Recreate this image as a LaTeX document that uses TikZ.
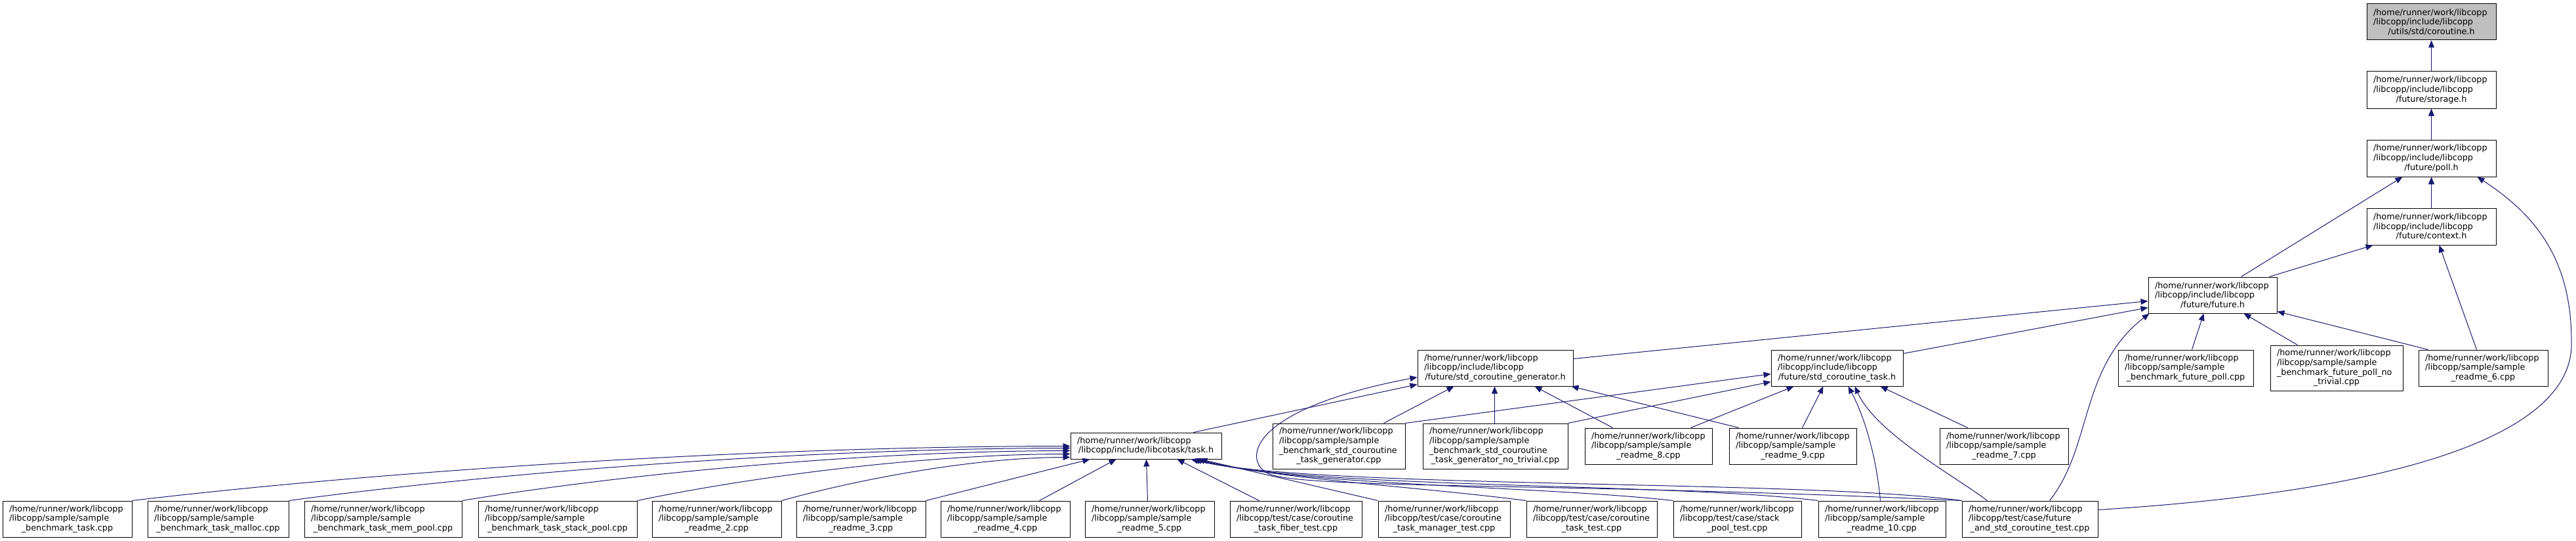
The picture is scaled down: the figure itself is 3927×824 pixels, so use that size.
\documentclass[tikz,border=0pt]{standalone}
\usepackage{fontspec}
\setmainfont{DejaVu Sans}
\usetikzlibrary{arrows.meta}
\definecolor{edgeblue}{HTML}{191970}
\definecolor{rootfill}{HTML}{BFBFBF}
\hyphenpenalty=10000
\exhyphenpenalty=10000
\newcommand{\bx}[8][]{%
  \pgfmathsetmacro\bxw{#5-#3}%
  \pgfmathsetmacro\bxh{#6-#4}%
  \pgfmathsetmacro\bxt{#5-#3-20}%
  \pgfmathsetmacro\bxcx{(#3+#5)/2}%
  \pgfmathsetmacro\bxcy{(#4+#6)/2}%
  \node[box,#1,minimum width=\bxw pt,minimum height=\bxh pt,text width=\bxt pt] (#2) at (\bxcx,\bxcy) {\parindent=0pt\raggedright #7\par\centering #8\par};%
}
\newcommand{\hm}{/home/runner/work/libcopp}
\newcommand{\inc}{/libcopp/include/libcopp}
\newcommand{\smp}{/libcopp/sample/sample}
\begin{document}
\begin{tikzpicture}[x=1pt,y=-1pt,
  box/.style={draw=black,line width=1pt,fill=white,rectangle,inner xsep=10pt,inner ysep=0pt,
    font=\fontsize{12.8pt}{14.7pt}\selectfont},
  edge/.style={draw=edgeblue,line width=1pt,-{Triangle[length=11pt,width=9pt]}}]
\fill[white] (0,0) rectangle (3927,824);
\useasboundingbox (0,0) rectangle (3927,824);
% top chain
\bx[fill=rootfill]{cor}{3608}{6}{3805}{61}{\hm\\\inc}{/utils/std/coroutine.h}
\bx{sto}{3608}{109}{3805}{165}{\hm\\\inc}{/future/storage.h}
\bx{poll}{3608}{213}{3805}{269}{\hm\\\inc}{/future/poll.h}
\bx{ctx}{3608}{317}{3805}{373}{\hm\\\inc}{/future/context.h}
\bx{fut}{3275}{422}{3471}{477}{\hm\\\inc}{/future/future.h}
% row 5
\bx{gen}{2161}{533}{2398}{588}{\hm\\\inc}{/future/std\_coroutine\_generator.h}
\bx{stk}{2700}{533}{2901}{588}{\hm\\\inc}{/future/std\_coroutine\_task.h}
\bx{bfp}{3229}{533}{3435}{588}{\hm\\\smp}{\_benchmark\_future\_poll.cpp}
\bx{bfpn}{3461}{526}{3663}{595}{\hm\\\smp\\\_benchmark\_future\_poll\_no}{\_trivial.cpp}
\bx{r6}{3687}{533}{3884}{588}{\hm\\\smp}{\_readme\_6.cpp}
% row 6
\bx{tsk}{1632}{659}{1862}{699}{\hm}{/libcopp/include/libcotask/task.h}
\bx{bsg}{1940}{645}{2142}{714}{\hm\\\smp\\\_benchmark\_std\_couroutine}{\_task\_generator.cpp}
\bx{bsgn}{2169}{645}{2390}{714}{\hm\\\smp\\\_benchmark\_std\_couroutine}{\_task\_generator\_no\_trivial.cpp}
\bx{r8}{2416}{652}{2610}{707}{\hm\\\smp}{\_readme\_8.cpp}
\bx{r9}{2636}{652}{2830}{707}{\hm\\\smp}{\_readme\_9.cpp}
\bx{r7}{2957}{652}{3153}{707}{\hm\\\smp}{\_readme\_7.cpp}
% bottom row
\bx{bt}{4}{763}{201}{818}{\hm\\\smp}{\_benchmark\_task.cpp}
\bx{btm}{225}{763}{440}{818}{\hm\\\smp}{\_benchmark\_task\_malloc.cpp}
\bx{btmp}{464}{763}{704}{818}{\hm\\\smp}{\_benchmark\_task\_mem\_pool.cpp}
\bx{btsp}{729}{763}{971}{818}{\hm\\\smp}{\_benchmark\_task\_stack\_pool.cpp}
\bx{r2}{994}{763}{1191}{818}{\hm\\\smp}{\_readme\_2.cpp}
\bx{r3}{1214}{763}{1411}{818}{\hm\\\smp}{\_readme\_3.cpp}
\bx{r4}{1434}{763}{1631}{818}{\hm\\\smp}{\_readme\_4.cpp}
\bx{r5}{1654}{763}{1851}{818}{\hm\\\smp}{\_readme\_5.cpp}
\bx{tft}{1875}{763}{2076}{818}{\hm\\/libcopp/test/case/coroutine}{\_task\_fiber\_test.cpp}
\bx{tmt}{2101}{763}{2302}{818}{\hm\\/libcopp/test/case/coroutine}{\_task\_manager\_test.cpp}
\bx{tt}{2327}{763}{2526}{818}{\hm\\/libcopp/test/case/coroutine}{\_task\_test.cpp}
\bx{spt}{2551}{763}{2746}{818}{\hm\\/libcopp/test/case/stack}{\_pool\_test.cpp}
\bx{r10}{2772}{763}{2966}{818}{\hm\\\smp}{\_readme\_10.cpp}
\bx{fst}{2991}{763}{3198}{818}{\hm\\/libcopp/test/case/future}{\_and\_std\_coroutine\_test.cpp}
% edges: top chain
\draw[edge] (sto) -- (cor);
\draw[edge] (poll) -- (sto);
\draw[edge] (ctx) -- (poll);
\draw[edge] ([xshift=142pt]fut.north west) -- ([xshift=55pt]poll.south west);
\draw[edge] ([xshift=185pt]fut.north west) -- ([xshift=10pt]ctx.south west);
\draw[edge] ([xshift=89pt]r6.north west) -- ([xshift=111pt]ctx.south west);
\draw[edge] ([yshift=-14pt]fst.north east) .. controls (3700,745) and (3925,650) .. (3920,520)
  .. controls (3920,400) and (3870,330) .. ([xshift=169pt]poll.south west);
% into future.h
\draw[edge] ([yshift=-14pt]gen.north east) -- ([yshift=-37pt]fut.north west);
\draw[edge] ([yshift=-6pt]stk.north east) -- ([yshift=-47pt]fut.north west);
\draw[edge] ([xshift=113pt]bfp.north west) -- ([xshift=85pt]fut.south west);
\draw[edge] ([xshift=42pt]bfpn.north west) -- ([xshift=146pt]fut.south west);
\draw[edge] ([xshift=15pt]r6.north west) -- ([yshift=3pt]fut.south east);
\draw[edge] ([xshift=134pt]fst.north west) .. controls (3190,680) and (3170,560) .. ([xshift=2pt]fut.south west);
% into generator
\draw[edge] ([xshift=188pt]tsk.north west) -- ([yshift=3pt]gen.south west);
\draw[edge] ([xshift=170pt]bsg.north west) -- ([xshift=56pt]gen.south west);
\draw[edge] ([xshift=110pt]bsgn.north west) -- ([xshift=118pt]gen.south west);
\draw[edge] ([xshift=43pt]r8.north west) -- ([xshift=179pt]gen.south west);
\draw[edge] ([xshift=15pt]r9.north west) -- ([xshift=-3pt]gen.south east);
\draw[edge] (fst.north west) .. controls (2400,735) and (1990,745) .. (1935,722)
  .. controls (1895,705) and (1895,625) .. ([yshift=-42pt]gen.north west);
% into std_coroutine_task
\draw[edge] (bsg.north east) -- ([yshift=-37pt]stk.north west);
\draw[edge] (bsgn.north east) -- ([yshift=-49pt]stk.north west);
\draw[edge] ([xshift=162pt]r8.north west) -- ([xshift=35pt]stk.south west);
\draw[edge] ([xshift=112pt]r9.north west) -- ([xshift=80pt]stk.south west);
\draw[edge] ([xshift=43pt]r7.north west) -- ([xshift=167pt]stk.south west);
\draw[edge] ([xshift=95pt]r10.north west) .. controls (2860,690) and (2840,630) .. ([xshift=118pt]stk.south west);
\draw[edge] ([xshift=39pt]fst.north west) .. controls (2980,725) and (2860,660) .. ([xshift=128pt]stk.south west);
% into task.h
\draw[edge] (bt.north east) .. controls (559,720) and (1131,680) .. ([yshift=-21pt]tsk.north west);
\draw[edge] (btm.north east) .. controls (738,722) and (1215,683) .. ([yshift=-24pt]tsk.north west);
\draw[edge] (btmp.north east) .. controls (936,724) and (1307,687) .. ([yshift=-28pt]tsk.north west);
\draw[edge] (btsp.north east) .. controls (1136,728) and (1401,692) .. ([yshift=-33pt]tsk.north west);
\draw[edge] (r2.north east) .. controls (1301,732) and (1478,697) .. ([yshift=-38pt]tsk.north west);
\draw[edge] (r3.north east) -- ([xshift=30pt]tsk.south west);
\draw[edge] ([xshift=151pt]r4.north west) -- ([xshift=70pt]tsk.south west);
\draw[edge] ([xshift=96pt]r5.north west) -- ([xshift=116pt]tsk.south west);
\draw[edge] ([xshift=45pt]tft.north west) -- ([xshift=163pt]tsk.south west);
\draw[edge] (tmt.north west) -- ([xshift=198pt]tsk.south west);
\draw[edge] (tt.north west) .. controls (2150,740) and (1950,730) .. ([xshift=194pt]tsk.south west);
\draw[edge] (spt.north west) .. controls (2350,740) and (1980,740) .. ([xshift=190pt]tsk.south west);
\draw[edge] (r10.north west) .. controls (2550,735) and (2000,745) .. ([xshift=187pt]tsk.south west);
\draw[edge] (fst.north west) .. controls (2750,730) and (2000,745) .. ([xshift=184pt]tsk.south west);
\end{tikzpicture}
\end{document}
